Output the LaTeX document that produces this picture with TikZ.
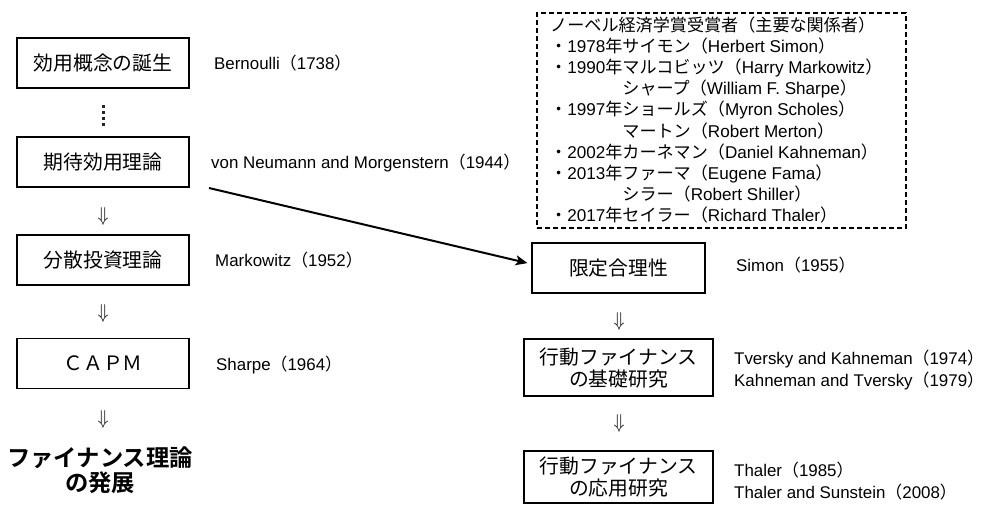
\documentclass[tikz,border=0pt]{standalone}
\usepackage{fontspec}
\setmainfont{Liberation Sans}
\newfontfamily\jp{Noto Sans CJK JP}[BoldFont={Noto Sans CJK JP Bold}]
\usetikzlibrary{arrows.meta}
\newcommand\lp{{\jp （}}
\newcommand\rp{{\jp ）}}
\newcommand\boxfont{\jp\fontsize{19.8}{22}\selectfont}
\newcommand\labfont{\fontsize{16.9}{22}\selectfont}
\newcommand\nobfont{\fontsize{17.1}{21}\selectfont}
\newcommand\dnarr{\scalebox{1.8}[2.0]{$\Downarrow$}}
\begin{document}
\begin{tikzpicture}[x=1pt,y=-1pt,
  box/.style={draw, line width=1.2pt, inner sep=0pt, align=center, font=\boxfont},
  lab/.style={anchor=west, inner sep=0pt, align=left, font=\labfont},
  nob/.style={anchor=west, inner sep=0pt, font=\nobfont, text height=0.8em, text depth=0.2em},
  darr/.style={inner sep=0pt},
  dotsq/.style={fill=black!85, minimum size=3pt, inner sep=0pt},
]
\useasboundingbox (0,0) rectangle (985,504);

% left column
\node[box, minimum width=172pt, minimum height=50pt] (b1) at (103,63) {効用概念の誕生};
\coordinate (dots) at (103,115);
\foreach \k in {-9,-3,3,9} \node[dotsq] at ([yshift=-\k pt]dots) {};
\node[box, minimum width=172pt, minimum height=50pt] (b2) at (103,162) {期待効用理論};
\node[darr] (d1) at (103,216) {\dnarr};
\node[box, minimum width=172pt, minimum height=50pt] (b3) at (103,260) {分散投資理論};
\node[darr] (d2) at (103,313) {\dnarr};
\node[box, minimum width=172pt, minimum height=50pt] (b4) at (103,363.5) {ＣＡＰＭ};
\node[darr] (d3) at (103,419) {\dnarr};
\node[inner sep=0pt, align=center, font=\jp\bfseries\fontsize{23.3}{24.5}\selectfont] (dev) at (100,470) {ファイナンス理論\\の発展};

\node[lab] (l1) at (214,63) {Bernoulli\lp 1738\rp};
\node[lab] (l2) at (211,163) {von Neumann and Morgenstern\lp 1944\rp};
\node[lab] (l3) at (215,260) {Markowitz\lp 1952\rp};
\node[lab] (l4) at (216,365) {Sharpe\lp 1964\rp};

% right column
\node[box, minimum width=173pt, minimum height=50pt] (r1) at (618.5,268) {限定合理性};
\node[darr] (d4) at (619,321) {\dnarr};
\node[box, minimum width=189pt, minimum height=57pt] (r2) at (618.5,367.5) {行動ファイナンス\\の基礎研究};
\node[darr] (d5) at (619,423) {\dnarr};
\node[box, minimum width=189pt, minimum height=52pt] (r3) at (618.5,477) {行動ファイナンス\\の応用研究};

\node[lab] (l5) at (736,265) {Simon\lp 1955\rp};
\node[lab] (l6) at (734,370) {Tversky and Kahneman\lp 1974\rp\\Kahneman and Tversky\lp 1979\rp};
\node[lab] (l7) at (734,481) {Thaler\lp 1985\rp\\Thaler and Sunstein\lp 2008\rp};

% arrow
\coordinate (s) at (209,188);
\draw[line width=2pt, -{Stealth[length=12pt,width=10pt,inset=3pt]}, shorten >=4pt] (s) -- ([yshift=4pt]r1.west);

% Nobel box
\node[draw, dash pattern=on 5pt off 3pt, line width=1.2pt, minimum width=369pt, minimum height=215pt, inner sep=0pt] (nb) at (721.5,120.5) {};
\node[nob] (n1) at (550,28) {\jp ノーベル経済学賞受賞者（主要な関係者）};
\node[nob] (n2) at (550,49.2) {{\jp ・}1978{\jp 年サイモン（}Herbert Simon\rp};
\node[nob] (n3) at (550,70.4) {{\jp ・}1990{\jp 年マルコビッツ（}Harry Markowitz\rp};
\node[nob] (n4) at (550,91.6) {\phantom{{\jp ・}1990{\jp 年}}{\jp シャープ（}William F. Sharpe\rp};
\node[nob] (n5) at (550,112.8) {{\jp ・}1997{\jp 年ショールズ（}Myron Scholes\rp};
\node[nob] (n6) at (550,134) {\phantom{{\jp ・}1990{\jp 年}}{\jp マートン（}Robert Merton\rp};
\node[nob] (n7) at (550,155.2) {{\jp ・}2002{\jp 年カーネマン（}Daniel Kahneman\rp};
\node[nob] (n8) at (550,176.4) {{\jp ・}2013{\jp 年ファーマ（}Eugene Fama\rp};
\node[nob] (n9) at (550,197.6) {\phantom{{\jp ・}1990{\jp 年}}{\jp シラー（}Robert Shiller\rp};
\node[nob] (n10) at (550,218.8) {{\jp ・}2017{\jp 年セイラー（}Richard Thaler\rp};
\end{tikzpicture}
\end{document}
